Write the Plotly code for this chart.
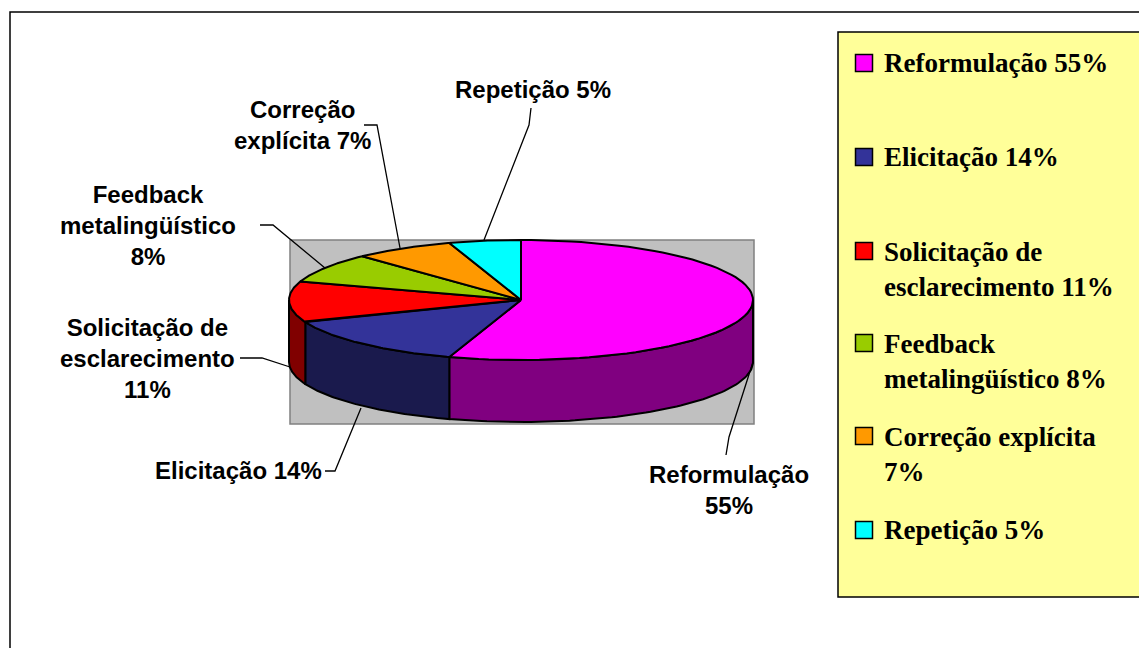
import numpy as np
import plotly.graph_objects as go

# --- data ---
categories = ["Reformulação", "Elicitação", "Solicitação de esclarecimento",
              "Feedback metalingüístico", "Correção explícita", "Repetição"]
shares = [55, 14, 11, 8, 7, 5]
top_colors = ["#FF00FF", "#333399", "#FF0000", "#99CC00", "#FF9900", "#00FFFF"]
side_colors = ["#800080", "#1A1A4D", "#800000", "#4D6600", "#804D00", "#008080"]
pie_labels = ["Reformulação<br>55%", "Elicitação 14%", "Solicitação de<br>esclarecimento<br>11%",
              "Feedback<br>metalingüístico<br>8%", "Correção<br>explícita 7%", "Repetição 5%"]
legend_labels = ["Reformulação 55%", "Elicitação 14%", "Solicitação de<br>esclarecimento 11%",
                 "Feedback<br>metalingüístico 8%", "Correção explícita<br>7%", "Repetição 5%"]

# --- layout geometry (pixel-like axis units) ---
W, H = 1139, 648
CX, CY, RX, RY, DEPTH = 521, 300, 232, 60, 62
label_xy = [(729, 490), (238, 470), (147, 358), (148, 225), (302, 125), (533, 89)]
legend_swatch_y = [63, 157, 251, 343, 436, 530]
legend_text_y = [63, 157, 269, 361, 454, 530]
leaders = [
    ([726, 729, 753], [455, 437, 362]),
    ([325, 335, 361], [471, 471, 408]),
    ([240, 262, 290], [358, 358, 367]),
    ([260, 273, 325], [225, 225, 268]),
    ([364, 377, 400], [125, 125, 248]),
    ([531, 529, 484], [108, 125, 240]),
]


def ell(deg):
    r = np.radians(deg)
    return CX + RX * np.sin(r), CY - RY * np.cos(r)


fig = go.Figure()
cum = np.concatenate([[0], np.cumsum(shares)]) / sum(shares) * 360

# sides (visible front half only)
for i in range(len(shares)):
    a0, a1 = max(cum[i], 90), min(cum[i + 1], 270)
    if a1 <= a0:
        continue
    t = np.linspace(a0, a1, 80)
    x, y = ell(t)
    fig.add_trace(go.Scatter(
        x=np.concatenate([x, x[::-1], x[:1]]),
        y=np.concatenate([y, (y + DEPTH)[::-1], y[:1]]),
        mode="lines", fill="toself", fillcolor=side_colors[i],
        line=dict(color="black", width=2), hoverinfo="skip", showlegend=False))

# top faces
for i in range(len(shares)):
    t = np.linspace(cum[i], cum[i + 1], 80)
    x, y = ell(t)
    fig.add_trace(go.Scatter(
        x=np.concatenate([[CX], x, [CX]]),
        y=np.concatenate([[CY], y, [CY]]),
        mode="lines", fill="toself", fillcolor=top_colors[i],
        line=dict(color="black", width=2), hoverinfo="skip", showlegend=False))

# leader lines
for lx, ly in leaders:
    fig.add_trace(go.Scatter(x=lx, y=ly, mode="lines", line=dict(color="black", width=1.3),
                             hoverinfo="skip", showlegend=False))

# legend swatches
fig.add_trace(go.Scatter(
    x=[864] * len(categories), y=legend_swatch_y, mode="markers",
    marker=dict(symbol="square", size=17, color=top_colors, line=dict(color="black", width=1.5)),
    hoverinfo="skip", showlegend=False))

annotations = []
for txt, (x, y) in zip(pie_labels, label_xy):
    annotations.append(dict(x=x, y=y, text=f"<b>{txt}</b>", showarrow=False, xanchor="center",
                            yanchor="middle", align="center",
                            font=dict(family="Liberation Sans", size=24, color="black")))
for txt, y in zip(legend_labels, legend_text_y):
    annotations.append(dict(x=882, y=y, text=f"<b>{txt}</b>", showarrow=False, xanchor="left",
                            yanchor="middle", align="left",
                            font=dict(family="Liberation Serif", size=27, color="black")))

shapes = [
    dict(type="rect", x0=10, y0=12, x1=W + 5, y1=H + 5, line=dict(color="black", width=1.5),
         fillcolor="white", layer="below"),
    dict(type="rect", x0=290, y0=240, x1=754, y1=424, line=dict(color="#808080", width=1.5),
         fillcolor="#C0C0C0", layer="below"),
    dict(type="rect", x0=838, y0=32, x1=W + 5, y1=597, line=dict(color="black", width=1.5),
         fillcolor="#FFFF99", layer="below"),
]

fig.update_layout(
    width=W, height=H, margin=dict(l=0, r=0, t=0, b=0),
    paper_bgcolor="white", plot_bgcolor="white",
    xaxis=dict(range=[0, W], visible=False, fixedrange=True),
    yaxis=dict(range=[H, 0], visible=False, fixedrange=True),
    shapes=shapes, annotations=annotations, showlegend=False,
)
fig.write_html("out.html", config=dict(displayModeBar=False),
               post_script="document.body.style.margin='0';document.body.style.overflow='hidden';")
